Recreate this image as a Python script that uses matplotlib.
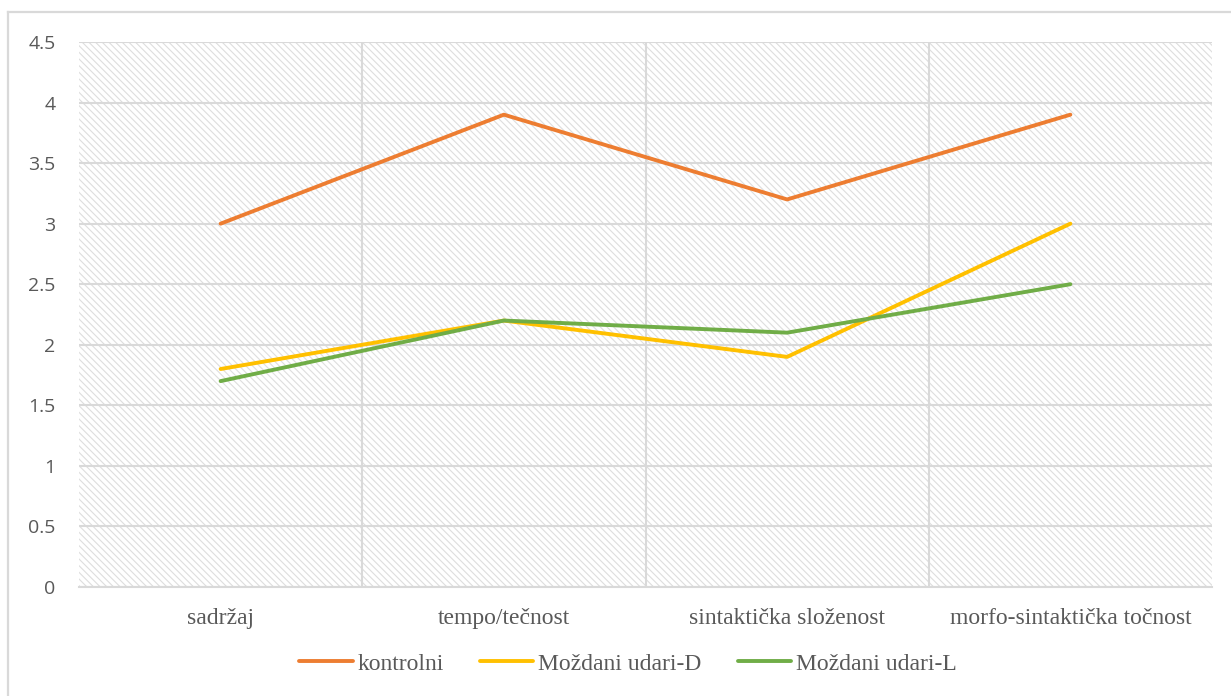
import matplotlib
matplotlib.use("Agg")
import matplotlib.pyplot as plt
from matplotlib.lines import Line2D

categories = ["sadržaj", "tempo/tečnost", "sintaktička složenost", "morfo-sintaktička točnost"]
kontrolni = [3.0, 3.9, 3.2, 3.9]
udari_d = [1.8, 2.2, 1.9, 3.0]
udari_l = [1.7, 2.2, 2.1, 2.5]
series_names = ["kontrolni", "Moždani udari-D", "Moždani udari-L"]
yticks = [0, 0.5, 1, 1.5, 2, 2.5, 3, 3.5, 4, 4.5]
ytick_labels = ["0", "0.5", "1", "1.5", "2", "2.5", "3", "3.5", "4", "4.5"]

colors = ["#ED7D31", "#FFC000", "#70AD47"]
grid_c = "#d9d9d9"
text_c = "#595959"

plt.rcParams["hatch.linewidth"] = 0.8

fig = plt.figure(figsize=(12.31, 6.96), dpi=100)
ax = fig.add_axes([79/1231, 1-587/696, (1212-79)/1231, (587-42)/696])

ax.patch.set_facecolor("white")
ax.patch.set_hatch("\\\\\\\\\\")
ax.patch.set_edgecolor("#dedede")

x = list(range(len(categories)))
for vals, c, name in zip([kontrolni, udari_d, udari_l], colors, series_names):
    ax.plot(x, vals, color=c, lw=2.8, solid_capstyle="round", label=name, zorder=3)

ax.set_xlim(-0.5, len(categories) - 0.5)
ax.set_ylim(0, 4.5)
ax.set_yticks(yticks)
ax.set_yticklabels(ytick_labels, fontfamily="Open Sans", fontsize=14, color=text_c)
ax.set_xticks(x)
ax.set_xticklabels(categories, fontfamily="Liberation Serif", fontsize=17, color=text_c)
ax.set_xticks([0.5, 1.5, 2.5], minor=True)
ax.tick_params(axis="x", which="both", length=0, pad=15)
ax.tick_params(axis="y", length=0, pad=17)

ax.set_axisbelow(True)
ax.grid(axis="y", which="major", color=grid_c, lw=1.5)
ax.grid(axis="x", which="minor", color=grid_c, lw=1.5)
ax.grid(axis="x", which="major", visible=False)

for s in ["top", "left", "right"]:
    ax.spines[s].set_visible(False)
ax.spines["bottom"].set_color(grid_c)
ax.spines["bottom"].set_linewidth(1.5)

# outer chart border (top and left visible)
fig.add_artist(Line2D([8/1231, 1.0], [1-12/696, 1-12/696], transform=fig.transFigure, color="#d9d9d9", lw=1.6))
fig.add_artist(Line2D([8/1231, 8/1231], [0.0, 1-12/696], transform=fig.transFigure, color="#d9d9d9", lw=1.6))

leg = fig.legend(loc="center", bbox_to_anchor=(628/1231, 1-664/696), ncol=3, frameon=False,
                 prop={"family": "Liberation Serif", "size": 17}, handlelength=2.25,
                 handletextpad=0.2, columnspacing=1.55, borderpad=0)
for t in leg.get_texts():
    t.set_color(text_c)

fig.savefig("out.png", dpi=100)
